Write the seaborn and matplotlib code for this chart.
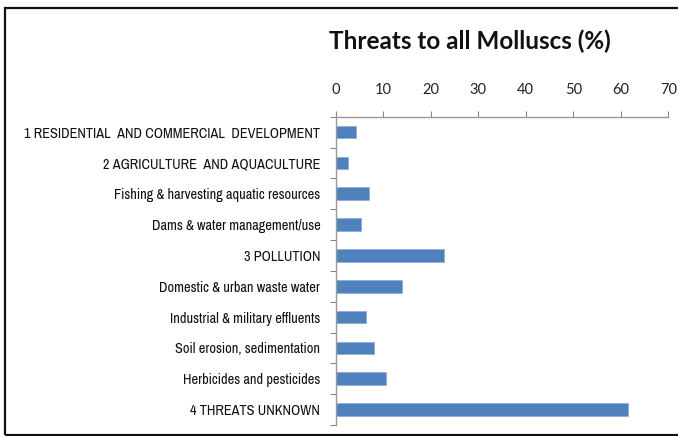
import matplotlib
matplotlib.use("Agg")
import matplotlib.pyplot as plt
import seaborn as sns
import pandas as pd
import numpy as np
from matplotlib.patches import Rectangle

categories = [
    "1 RESIDENTIAL  AND COMMERCIAL  DEVELOPMENT",
    "2 AGRICULTURE  AND AQUACULTURE",
    "Fishing & harvesting aquatic resources",
    "Dams & water management/use",
    "3 POLLUTION",
    "Domestic & urban waste water",
    "Industrial & military effluents",
    "Soil erosion, sedimentation",
    "Herbicides and pesticides",
    "4 THREATS UNKNOWN",
]
values = [4.3, 2.7, 7.0, 5.4, 22.9, 13.9, 6.4, 8.1, 10.7, 61.5]
x_ticks = [0, 10, 20, 30, 40, 50, 60, 70]

df = pd.DataFrame({"threat": categories, "percent": values})

sns.set_theme(style="white")
plt.rcParams["font.family"] = ["Archivo Narrow", "DejaVu Sans"]

fig = plt.figure(figsize=(6.78, 4.36), dpi=100)
ax = fig.add_axes([0.495, 0.0252, 0.4907, 0.7071])

sns.barplot(data=df, y="threat", x="percent", orient="h", color="#4F81BD",
            saturation=1, width=0.41, ax=ax, edgecolor="#8DB0D8", linewidth=0.6)

ax.set_xlim(0, 70)
ax.set_ylim(len(categories) - 0.5, -0.5)
ax.set_xticks(x_ticks)
ax.set_xticklabels([str(t) for t in x_ticks], fontsize=10.5, color="#222222",
                   family=["Lato", "DejaVu Sans"])
ax.xaxis.tick_top()
ax.xaxis.set_label_position("top")
ax.set_xlabel("")
ax.set_ylabel("")
ax.set_yticks(range(len(categories)))
ax.set_yticklabels(categories, fontsize=10.3, color="#111111")
ax.set_yticks(np.arange(-0.5, len(categories), 1.0), minor=True)

ax.tick_params(axis="y", which="major", length=0, pad=11)
ax.tick_params(axis="y", which="minor", length=4, width=0.8, color="#888888", direction="out", left=True)
ax.tick_params(axis="x", which="major", length=4, width=0.8, color="#888888", direction="out", top=True, bottom=False, pad=10)

for side in ["right", "bottom"]:
    ax.spines[side].set_visible(False)
for side in ["left", "top"]:
    ax.spines[side].set_color("#999999")
    ax.spines[side].set_linewidth(1.0)

fig.text(0.693, 0.905, "Threats to all Molluscs (%)", ha="center", va="center",
         fontsize=17.5, fontweight="bold", color="#111111",
         family=["Lato", "DejaVu Sans"])

fig.patches.append(Rectangle((5 / 678, 1 - 435 / 436), 1.0, (435 - 8) / 436,
                             transform=fig.transFigure, fill=False,
                             edgecolor="#111111", linewidth=1.6))

fig.savefig("out.png", dpi=100)
